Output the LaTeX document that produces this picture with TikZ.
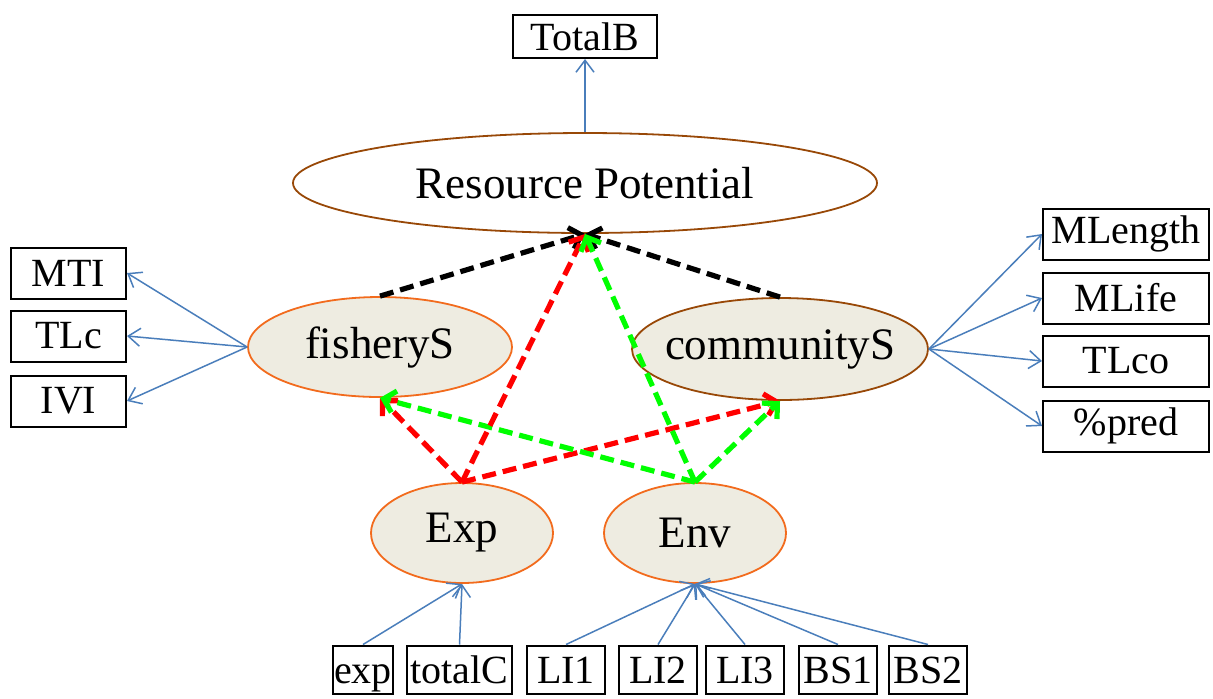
\documentclass[tikz,border=0pt]{standalone}
\usepackage{fontspec}
\setmainfont{Liberation Serif}
\usetikzlibrary{shapes.geometric,arrows.meta}
\definecolor{lblue}{HTML}{4A7EBB}
\definecolor{ofill}{HTML}{EEECE1}
\definecolor{oedge}{HTML}{F26B1D}
\definecolor{bedge}{HTML}{984807}
\definecolor{lgreen}{HTML}{00FF00}
\begin{document}
\begin{tikzpicture}[x=0.5pt,y=-0.5pt,
  box/.style={draw=black,line width=1pt,inner sep=0pt,font=\fontsize{20}{24}\selectfont},
  lbox/.style={box,minimum width=57.5pt,minimum height=25.5pt},
  rbox/.style={box,minimum width=83pt,minimum height=25.5pt},
  bbox/.style={box,minimum height=24pt,text height=13.5pt,text depth=0pt},
  ell/.style={ellipse,draw,line width=0.9pt,inner xsep=-30pt,inner ysep=-5pt,font=\fontsize{22.5}{27}\selectfont},
  lat/.style={ell,fill=ofill,draw=oedge},
  load/.style={draw=lblue,line width=0.75pt,-{Straight Barb[length=6pt,width=9pt]}},
  path/.style={line width=2.6pt,dash pattern=on 7pt off 3.5pt,-{Straight Barb[length=5.5pt,width=11pt]}}
]
\useasboundingbox (0,0) rectangle (1213,698);

% top
\node[box,minimum width=72pt,minimum height=21.5pt] (TB) at (585,36.5) {TotalB};
\node[ell,draw=bedge,minimum width=292pt,minimum height=50pt] (RP) at (585,183) {Resource Potential};

% middle
\node[lat,minimum width=132pt,minimum height=50pt] (FS) at (380,347) {fisheryS};
\node[ell,fill=ofill,draw=bedge,minimum width=148pt,minimum height=51pt] (CS) at (780,349) {communityS};

% lower
\node[lat,minimum width=91pt,minimum height=50pt] (EX) at (462,533) {Exp};
\node[lat,minimum width=91pt,minimum height=50pt] (EN) at (695,533) {Env};

% left boxes
\node[lbox] (MTI) at (68.5,273) {MTI};
\node[lbox] (TLc) at (68.5,336) {TLc};
\node[lbox] (IVI) at (68.5,401) {IVI};

% right boxes
\node[rbox] (ML) at (1126,234) {MLength};
\node[rbox] (MLi) at (1126,298) {MLife};
\node[rbox] (TLco) at (1126,361) {TLco};
\node[rbox] (PP) at (1126,426) {\%pred};

% bottom boxes
\node[bbox,minimum width=30pt] (ex) at (363,669.5) {exp};
\node[bbox,minimum width=52.5pt] (tc) at (459.5,669.5) {totalC};
\node[bbox,minimum width=39pt] (L1) at (566,669.5) {LI1};
\node[bbox,minimum width=39pt] (L2) at (658,669.5) {LI2};
\node[bbox,minimum width=39pt] (L3) at (745,669.5) {LI3};
\node[bbox,minimum width=39pt] (B1) at (838,669.5) {BS1};
\node[bbox,minimum width=39pt] (B2) at (928,669.5) {BS2};

% blue loadings
\draw[load] (RP.north) -- (TB.south);
\draw[load] (FS.west) -- (MTI.east);
\draw[load] (FS.west) -- (TLc.east);
\draw[load] (FS.west) -- (IVI.east);
\draw[load] (CS.east) -- (ML.west);
\draw[load] (CS.east) -- (MLi.west);
\draw[load] (CS.east) -- (TLco.west);
\draw[load] (CS.east) -- (PP.west);
\draw[load] (ex.north) -- (EX.south);
\draw[load] (tc.north) -- (EX.south);
\draw[load] (L1.north) -- (EN.south);
\draw[load] (L2.north) -- (EN.south);
\draw[load] (L3.north) -- (EN.south);
\draw[load] (B1.north) -- (EN.south);
\draw[load] (B2.north) -- (EN.south);

% structural paths
\draw[path,black] (FS.north) -- (RP.south);
\draw[path,black] (CS.north) -- (RP.south);
\draw[path,red] (EX.north) -- (FS.south);
\draw[path,red] (EX.north) -- (CS.south);
\draw[path,lgreen] (EN.north) -- (FS.south);
\draw[path,lgreen] (EN.north) -- (CS.south);
\draw[path,red] (EX.north) -- (RP.south);
\draw[path,lgreen] (EN.north) -- (RP.south);
\end{tikzpicture}
\end{document}
